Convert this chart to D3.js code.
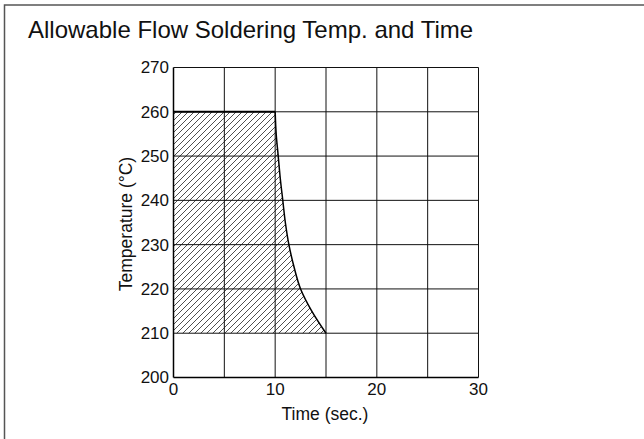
<!DOCTYPE html>
<html>
<head>
<meta charset="utf-8">
<script src="https://cdn.jsdelivr.net/npm/d3@7"></script>
<style>
  body { margin: 0; background: #fff; }
  text { font-family: "Liberation Sans", Arial, sans-serif; fill: #111; }
</style>
</head>
<body>
<svg width="644" height="439"></svg>
<script>
// curve of the allowable area (time in sec, temp in C)
var curveTime = [10, 10.1, 10.3, 10.5, 10.75, 11.0, 11.35, 11.85, 12.5, 13.6, 15];
var curveTemp = [260, 255, 250, 245, 240, 235, 230, 225, 220, 215, 210];
var xTicks = [0, 10, 20, 30];
var yTicks = [200, 210, 220, 230, 240, 250, 260, 270];
var xGrid = [5, 10, 15, 20, 25, 30];
var yGrid = [210, 220, 230, 240, 250, 260, 270];

var svg = d3.select("svg");

var x = d3.scaleLinear().domain([0, 30]).range([173.5, 478.5]);
var y = d3.scaleLinear().domain([200, 270]).range([377.5, 67.5]);

// outer frame
svg.append("rect")
  .attr("x", 4.5).attr("y", 5)
  .attr("width", 700).attr("height", 500)
  .attr("fill", "none")
  .attr("stroke", "#555")
  .attr("stroke-width", 1.5);

svg.append("text")
  .attr("x", 28).attr("y", 38)
  .style("font-size", "24px")
  .text("Allowable Flow Soldering Temp. and Time");

// hatch pattern
var defs = svg.append("defs");
defs.append("pattern")
  .attr("id", "hatch")
  .attr("patternUnits", "userSpaceOnUse")
  .attr("width", 6).attr("height", 6)
  .append("path")
    .attr("d", "M0,6 L6,0 M-1,1 L1,-1 M5,7 L7,5")
    .attr("stroke", "#222")
    .attr("stroke-width", 0.8);

// hatched area
var pts = curveTime.map((t, i) => [t, curveTemp[i]]);
var curve = d3.line()
  .x(d => x(d[0]))
  .y(d => y(d[1]))
  .curve(d3.curveMonotoneY);

svg.append("path")
  .attr("d", d3.line().x(d => x(d[0])).y(d => y(d[1]))([[0, 210], [0, 260]]) + curve(pts).replace(/^M/, "L") + "Z")
  .attr("fill", "url(#hatch)")
  .attr("stroke", "none");

// grid
svg.selectAll(".vgrid")
  .data(xGrid)
  .enter()
  .append("line")
    .attr("x1", d => x(d)).attr("x2", d => x(d))
    .attr("y1", y(200)).attr("y2", y(270))
    .attr("stroke", "#111")
    .attr("stroke-width", 1);

svg.selectAll(".hgrid")
  .data(yGrid)
  .enter()
  .append("line")
    .attr("x1", x(0)).attr("x2", x(30))
    .attr("y1", d => y(d)).attr("y2", d => y(d))
    .attr("stroke", "#111")
    .attr("stroke-width", 1);

// axes lines
svg.append("line")
  .attr("x1", x(0)).attr("x2", x(0))
  .attr("y1", y(200)).attr("y2", y(270))
  .attr("stroke", "#000").attr("stroke-width", 1.5);
svg.append("line")
  .attr("x1", x(0)).attr("x2", x(30))
  .attr("y1", y(200)).attr("y2", y(200))
  .attr("stroke", "#000").attr("stroke-width", 1.5);

// boundary: top at 260 and the curve
svg.append("line")
  .attr("x1", x(0)).attr("x2", x(10))
  .attr("y1", y(260)).attr("y2", y(260))
  .attr("stroke", "#000").attr("stroke-width", 2);
svg.append("path")
  .attr("d", curve(pts))
  .attr("fill", "none")
  .attr("stroke", "#000")
  .attr("stroke-width", 1.5);

// tick labels
svg.selectAll(".ylab")
  .data(yTicks)
  .enter()
  .append("text")
    .attr("x", x(0) - 4.5)
    .attr("y", d => y(d))
    .attr("dy", "0.35em")
    .style("text-anchor", "end")
    .style("font-size", "17px")
    .text(d => d);

svg.selectAll(".xlab")
  .data(xTicks)
  .enter()
  .append("text")
    .attr("x", d => x(d))
    .attr("y", 394.5)
    .style("text-anchor", "middle")
    .style("font-size", "17px")
    .text(d => d);

svg.append("text")
  .attr("x", 325).attr("y", 420)
  .style("text-anchor", "middle")
  .style("font-size", "17.5px")
  .text("Time (sec.)");

svg.append("text")
  .attr("transform", "translate(132, 224) rotate(-90)")
  .style("text-anchor", "middle")
  .style("font-size", "17.5px")
  .text("Temperature (°C)");
</script>
</body>
</html>
